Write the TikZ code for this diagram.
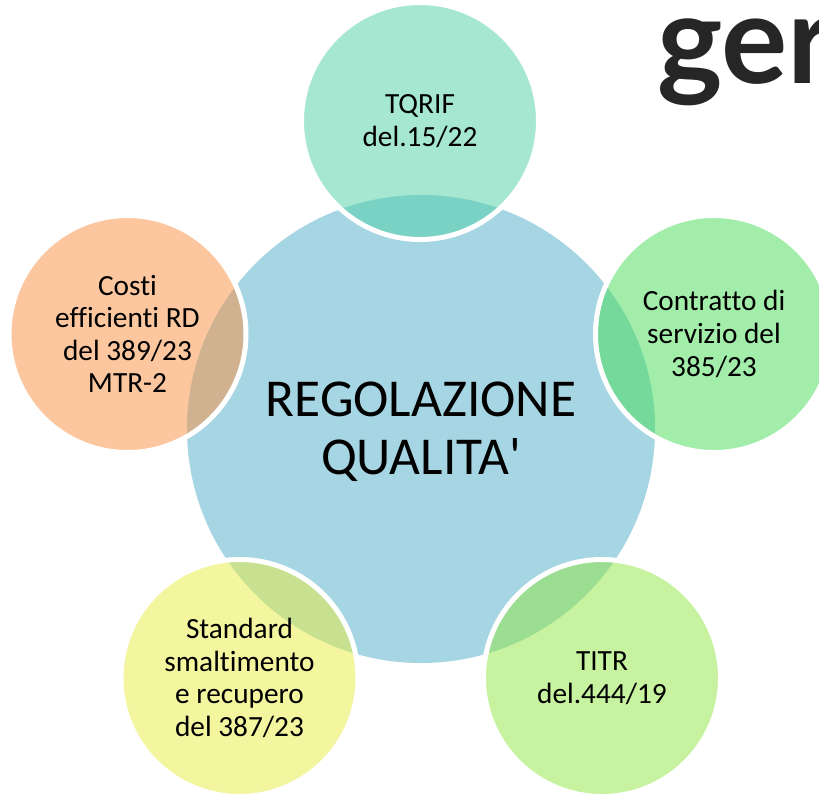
\documentclass[tikz,border=0pt]{standalone}
\usepackage{fontspec}
\setmainfont[Ligatures={NoCommon}]{Carlito}
\newfontfamily\logofont{Lato}
\definecolor{hub}{RGB}{166,213,227}
\definecolor{sattop}{RGB}{77,209,165}
\definecolor{satright}{RGB}{71,221,87}
\definecolor{satbr}{RGB}{145,231,65}
\definecolor{satbl}{RGB}{233,237,65}
\definecolor{satleft}{RGB}{250,145,65}
\definecolor{logoink}{RGB}{38,38,38}
\tikzset{
  hubcircle/.style={circle,fill=hub,inner sep=0pt,minimum size=468pt},
  hublabel/.style={inner sep=0pt,align=center,text=black,font=\fontsize{53.3}{58}\selectfont},
  satcircle/.style={circle,fill=#1,fill opacity=0.5,text opacity=1,draw=white,draw opacity=1,line width=5pt,
    inner sep=0pt,minimum size=237pt,align=center,text=black,
    font=\fontsize{29.3}{32.6}\selectfont},
  logotext/.style={inner sep=0pt,anchor=base west,text=logoink,font=\logofont\bfseries\fontsize{124}{124}\selectfont}
}
\begin{document}
\begin{tikzpicture}[x=1pt,y=-1pt]
\clip (0,0) rectangle (819,793);
\fill[white] (0,0) rectangle (819,793);
\node[logotext] (logo) at (657,83) {ger};
\node[hubcircle] (hub) at (421,429) {};
\node[hublabel] (hubtext) at (421,432) {REGOLAZIONE\\QUALITA\textquotesingle};
\node[satcircle=sattop] (tqrif) at (420,121) {TQRIF\\del.15/22};
\node[satcircle=satright] (contratto) at (714,334) {Contratto di\\servizio del\\385/23};
\node[satcircle=satbr] (titr) at (602,678) {TITR\\del.444/19};
\node[satcircle=satbl] (standard) at (239.5,678) {Standard\\smaltimento\\e recupero\\del 387/23};
\node[satcircle=satleft] (costi) at (127.5,334) {Costi\\efficienti RD\\del 389/23\\MTR-2};
\end{tikzpicture}
\end{document}
